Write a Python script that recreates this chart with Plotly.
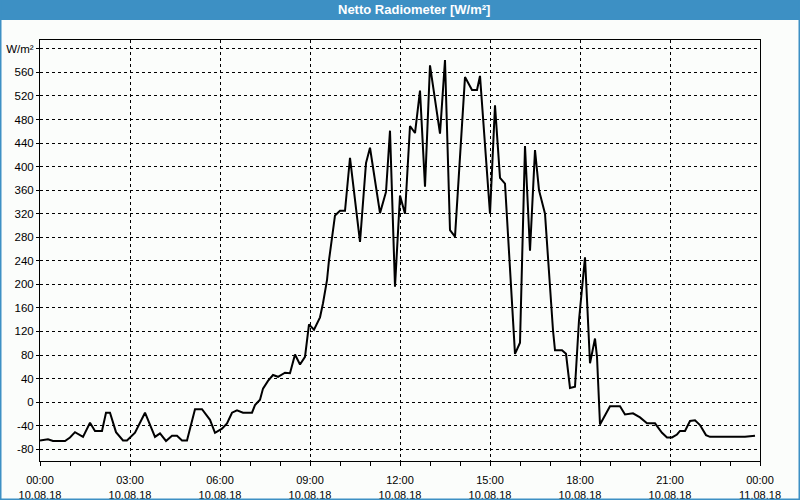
import plotly.graph_objects as go

# ---- data ----
times = ["00:00","00:16","00:26","00:50","01:00","01:10","01:26","01:40","01:50","02:04",
         "02:12","02:20","02:32","02:46","02:54","03:10","03:30","03:50","04:00","04:12",
         "04:24","04:34","04:44","04:54","05:10","05:24","05:40","05:50","06:04","06:14",
         "06:24","06:34","06:46","07:04","07:10","07:20","07:26","07:36","07:46","07:56",
         "08:10","08:20","08:30","08:40","08:50","08:58","09:08","09:20","09:26","09:34",
         "09:38","09:50","10:00","10:10","10:20","10:40","10:52","11:00","11:20","11:32",
         "11:40","11:50","12:00","12:10","12:20","12:30","12:40","12:50","13:00","13:20",
         "13:30","13:40","13:50","14:10","14:24","14:34","14:40","15:00","15:10","15:20",
         "15:30","15:50","16:00","16:06","16:10","16:20","16:30","16:38","16:50","17:06",
         "17:10","17:24","17:32","17:40","17:50","17:58","18:10","18:20","18:30","18:34",
         "18:40","19:00","19:20","19:30","19:46","20:00","20:14","20:30","20:44","20:54",
         "21:04","21:14","21:20","21:30","21:40","21:50","22:00","22:12","22:20","23:30",
         "23:50"]
values = [-65,-63,-66,-66,-60,-51,-59,-35,-49,-49,
          -18,-18,-51,-65,-65,-52,-18,-59,-53,-66,
          -57,-57,-65,-65,-12,-12,-30,-52,-45,-36,
          -18,-14,-18,-18,-5,4,23,36,46,43,
          50,49,81,64,77,132,123,144,168,207,
          241,317,325,325,415,272,406,432,321,357,
          461,196,351,320,469,457,529,366,572,456,
          581,292,281,552,530,530,554,320,504,381,
          371,82,101,298,435,257,428,360,320,122,
          88,88,82,24,26,139,246,66,108,77,
          -38,-7,-7,-21,-19,-26,-36,-36,-52,-60,
          -60,-55,-49,-49,-32,-31,-39,-56,-59,-59,
          -57]
day = "2018-08-10"
x_range = ["2018-08-10 00:00", "2018-08-11 00:00"]
y_ticks = [-80,-40,0,40,80,120,160,200,240,280,320,360,400,440,480,520,560,600]
y_tick_text = [str(v) for v in y_ticks[:-1]] + ["W/m²"]
title = "Netto Radiometer [W/m²]"

x = [f"{day} {t}" for t in times]

W, H = 800, 500
ml, mr, mt, mb = 40, 40, 40, 39
pw, ph = W - ml - mr, H - mt - mb
BLUE = "#3d90c4"
BG = "#fbfdfb"
FONT = "Liberation Sans"
TF = dict(family=FONT, size=11.5, color="black")
XF = dict(family=FONT, size=11, color="black")
STEP = 3 * 3600 * 1000

fig = go.Figure()
fig.add_trace(go.Scatter(x=x, y=values, mode="lines",
                         line=dict(color="black", width=2), hoverinfo="skip"))
# invisible copy on the overlaying axis that draws the short 3-hour ticks
fig.add_trace(go.Scatter(x=x, y=values, mode="lines", xaxis="x2",
                         line=dict(color="rgba(0,0,0,0)", width=0), hoverinfo="skip"))

fig.update_layout(
    width=W, height=H,
    margin=dict(l=ml, r=mr, t=mt, b=mb, autoexpand=False),
    paper_bgcolor=BG, plot_bgcolor=BG,
    showlegend=False,
    font=dict(family=FONT, size=11, color="black"),
    xaxis=dict(
        type="date", automargin=False, range=x_range,
        tick0=x_range[0], dtick=STEP, tickformat="%H:%M<br>%d.%m.%y",
        showgrid=True, gridcolor="black", gridwidth=1, griddash="3px,3px",
        showline=True, linecolor="black", linewidth=1, mirror=True,
        ticks="outside", ticklen=9, tickcolor=BG,
        minor=dict(ticks="outside", ticklen=4, dtick=3600 * 1000, tickcolor="black", showgrid=False),
        zeroline=False, tickfont=XF,
    ),
    xaxis2=dict(
        type="date", automargin=False, range=x_range, overlaying="x", anchor="y", side="bottom",
        tick0=x_range[0], dtick=STEP, showticklabels=False,
        showgrid=False, showline=False, ticks="outside", ticklen=4, tickcolor="black",
        zeroline=False,
    ),
    yaxis=dict(
        automargin=False, range=[-100, 615],
        tickmode="array", tickvals=y_ticks, ticktext=y_tick_text,
        showgrid=True, gridcolor="black", gridwidth=1, griddash="3px,3px",
        showline=True, linecolor="black", linewidth=1, mirror=True,
        ticks="outside", ticklen=3, tickcolor="black",
        zeroline=False, tickfont=TF,
    ),
)

# title bar and outer border
fig.add_shape(type="rect", xref="paper", yref="paper",
              x0=-ml / pw, x1=1 + mr / pw, y0=1 + (mt - 20) / ph, y1=1 + mt / ph,
              fillcolor=BLUE, line=dict(width=0), layer="below")
fig.add_shape(type="rect", xref="paper", yref="paper",
              x0=-ml / pw + 0.5 / pw, x1=1 + (mr - 0.5) / pw,
              y0=-(mb - 0.5) / ph, y1=1 + mt / ph,
              fillcolor="rgba(0,0,0,0)", line=dict(color=BLUE, width=2))
fig.add_annotation(text=f"<b>{title}</b>", xref="paper", yref="paper",
                   x=(414 - ml) / pw, y=1 + (mt - 10) / ph, xanchor="center", yanchor="middle",
                   showarrow=False, font=dict(family=FONT, size=13, color="white"))

fig.write_html("out.html")
